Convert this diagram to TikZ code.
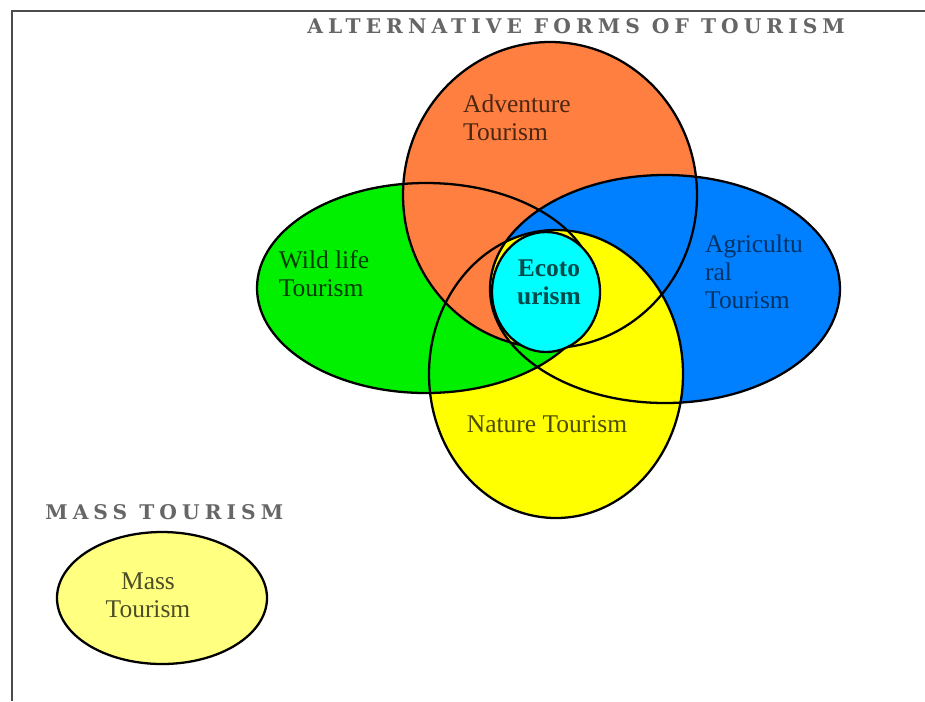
\documentclass[tikz,border=0pt]{standalone}
\usepackage{fontspec}
\setmainfont{Liberation Serif}
\newfontfamily\headfont[LetterSpace=25]{DejaVu Serif}
\usepackage{tikz}
\usetikzlibrary{
  positioning,
}
\definecolor{advcol}{HTML}{FF7F40}
\definecolor{wildcol}{HTML}{00F000}
\definecolor{agricol}{HTML}{0080FF}
\definecolor{natcol}{HTML}{FFFF00}
\definecolor{ecocol}{HTML}{00FFFF}
\definecolor{masscol}{HTML}{FFFF80}
\tikzset{
  rim/.style = {
    draw = black,
    line width = 1.3pt
  },
  frameline/.style = {
    draw = black!70,
    line width = 1.1pt
  },
  heading/.style = {
    font = \headfont\bfseries\fontsize{11.5}{13}\selectfont,
    text = black!60,
    inner sep = 0pt,
    anchor = base west
  },
  lbl/.style = {
    font = \fontsize{14.5}{15.8}\selectfont,
    align = left,
    inner sep = 0pt
  },
}
% the five sets of the venn picture
\newcommand{\adventure}{(550,195) ellipse [x radius = 147, y radius = 153]}
\newcommand{\wildlife}{(426,288) ellipse [x radius = 169, y radius = 105]}
\newcommand{\agri}{(665,289) ellipse [x radius = 175, y radius = 114]}
\newcommand{\nature}{(556,374) ellipse [x radius = 127, y radius = 144]}
\newcommand{\ecocirc}{(546,292) ellipse [x radius = 54, y radius = 60]}
\newcommand{\masscirc}{(162,598) ellipse [x radius = 105, y radius = 66]}

\begin{document}
\begin{tikzpicture}[x = 0.02cm, y = -0.02cm]
  \useasboundingbox (0,0) rectangle (925,701);
  \draw[frameline] (12,701) -- (12,11) -- (925,11);

  \fill[wildcol] \wildlife;
  \fill[advcol] \adventure;
  \fill[agricol] \agri;
  \fill[natcol] \nature;
  \begin{scope}
    \clip \nature;
    \fill[wildcol] \wildlife;
  \end{scope}
  \begin{scope}
    \clip \nature;
    \clip \wildlife;
    \fill[advcol] \adventure;
  \end{scope}
  \begin{scope}
    \clip \nature;
    \clip \wildlife;
    \clip \adventure;
    \fill[natcol] \agri;
  \end{scope}
  \draw[rim] \wildlife;
  \draw[rim] \adventure;
  \draw[rim] \agri;
  \draw[rim] \nature;
  \draw[rim, fill = ecocol] \ecocirc;
  \draw[rim, fill = masscol] \masscirc;

  \node[heading] (alttitle) at (307,33) {ALTERNATIVE FORMS OF TOURISM};
  \node[heading] (masstitle) at (45,519) {MASS TOURISM};

  \node[lbl, text = advcol!30!black] (advlbl) at (517,118) {Adventure\\Tourism};
  \node[lbl, text = wildcol!25!black] (wildlbl) at (324,274) {Wild life\\Tourism};
  \node[lbl, text = agricol!40!black] (agrilbl) at (754,272) {Agricultu\\ral\\Tourism};
  \node[lbl, align = center, font = \bfseries\fontsize{14.5}{15.8}\selectfont,
    text = ecocol!30!black] (ecolbl) at (549,282) {Ecoto\\urism};
  \node[lbl, anchor = base, text = natcol!30!black] (natlbl) at (547,432) {Nature Tourism};
  \node[lbl, align = center, text = masscol!30!black] (masslbl) at (148,595) {Mass\\Tourism};
\end{tikzpicture}
\end{document}
